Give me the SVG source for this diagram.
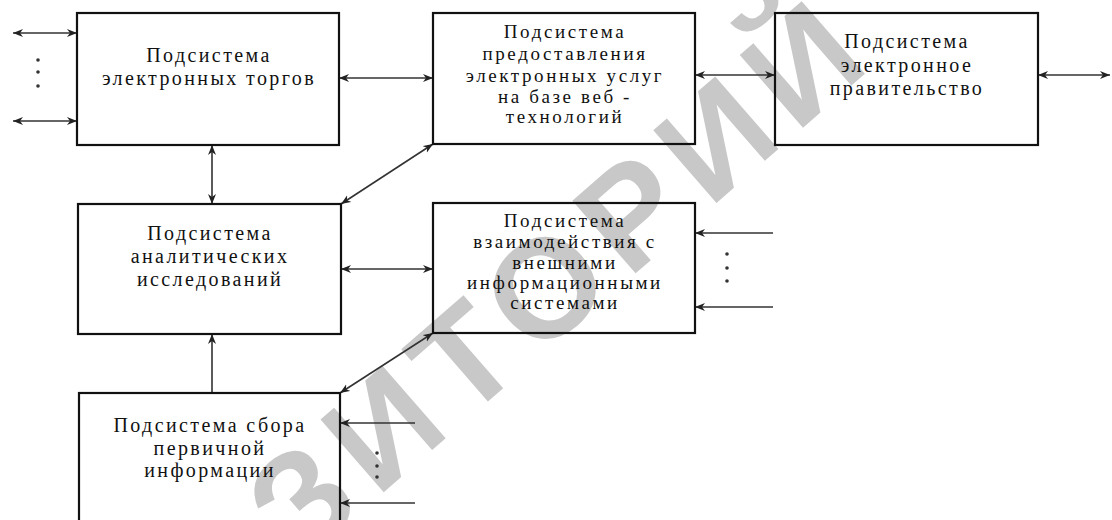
<svg xmlns="http://www.w3.org/2000/svg" width="1112" height="520" viewBox="0 0 1112 520">
<style>
.box{fill:none;stroke:#111;stroke-width:2.2}
.t{font-family:"Liberation Serif","Times New Roman",serif;font-size:20px;letter-spacing:2.4px;fill:#111;text-anchor:middle}
.s{font-size:19px;letter-spacing:2.6px}
.c{stroke:#333;stroke-width:1.6;fill:none}
.wm{font-family:"Liberation Sans",Arial,sans-serif;font-weight:bold;font-size:140px;letter-spacing:14px;fill:#c8c8c8}
.dot{fill:#333}
</style>
<defs>
<marker id="ah" markerUnits="userSpaceOnUse" markerWidth="12" markerHeight="10" refX="10" refY="4" orient="auto-start-reverse">
<path d="M0,0 L10,4 L0,8 L3,4 z" fill="#222"/>
</marker>
</defs>
<rect width="1112" height="520" fill="#fff"/>
<text class="wm" x="300" y="565" transform="rotate(-41 300 565)">ЗИТОРИЙ</text>
<g id="connectors">
<line class="c" x1="13" y1="33" x2="77" y2="33" marker-start="url(#ah)" marker-end="url(#ah)"/>
<line class="c" x1="13" y1="121" x2="77" y2="121" marker-start="url(#ah)" marker-end="url(#ah)"/>
<line class="c" x1="339" y1="78" x2="433" y2="78" marker-start="url(#ah)" marker-end="url(#ah)"/>
<line class="c" x1="695" y1="75" x2="775" y2="75" marker-start="url(#ah)" marker-end="url(#ah)"/>
<line class="c" x1="1038" y1="75" x2="1110" y2="75" marker-start="url(#ah)" marker-end="url(#ah)"/>
<line class="c" x1="212" y1="145" x2="212" y2="204" marker-start="url(#ah)" marker-end="url(#ah)"/>
<line class="c" x1="433" y1="144" x2="341" y2="204" marker-start="url(#ah)" marker-end="url(#ah)"/>
<line class="c" x1="341" y1="269" x2="433" y2="269" marker-start="url(#ah)" marker-end="url(#ah)"/>
<line class="c" x1="212" y1="393" x2="212" y2="334" marker-end="url(#ah)"/>
<line class="c" x1="433" y1="333" x2="340" y2="393" marker-start="url(#ah)" marker-end="url(#ah)"/>
<line class="c" x1="773" y1="233" x2="695" y2="233" marker-end="url(#ah)"/>
<line class="c" x1="773" y1="307" x2="695" y2="307" marker-end="url(#ah)"/>
<line class="c" x1="415" y1="423" x2="340" y2="423" marker-end="url(#ah)"/>
<line class="c" x1="415" y1="503" x2="340" y2="503" marker-end="url(#ah)"/>
<circle class="dot" cx="38" cy="60" r="1.8"/><circle class="dot" cx="38" cy="72" r="1.8"/><circle class="dot" cx="38" cy="86" r="1.8"/>
<circle class="dot" cx="727" cy="254" r="1.8"/><circle class="dot" cx="727" cy="268" r="1.8"/><circle class="dot" cx="727" cy="281" r="1.8"/>
<circle class="dot" cx="377" cy="453" r="1.8"/><circle class="dot" cx="377" cy="466" r="1.8"/><circle class="dot" cx="377" cy="477" r="1.8"/>
</g>
<g id="trading">
<rect class="box" x="77" y="13" width="262" height="132"/>
<text class="t" x="209" y="62">Подсистема</text>
<text class="t" x="209" y="85">электронных торгов</text>
</g>
<g id="services">
<rect class="box" x="433" y="13" width="262" height="131"/>
<text class="t s" x="565" y="38">Подсистема</text>
<text class="t s" x="565" y="60">предоставления</text>
<text class="t s" x="565" y="82">электронных услуг</text>
<text class="t s" x="565" y="103">на базе веб -</text>
<text class="t s" x="565" y="123">технологий</text>
</g>
<g id="government">
<rect class="box" x="775" y="13" width="263" height="132"/>
<text class="t" x="907" y="48">Подсистема</text>
<text class="t" x="907" y="72">электронное</text>
<text class="t" x="907" y="95">правительство</text>
</g>
<g id="analytics">
<rect class="box" x="78" y="204" width="263" height="130"/>
<text class="t" x="210" y="240">Подсистема</text>
<text class="t" x="210" y="263">аналитических</text>
<text class="t" x="210" y="286">исследований</text>
</g>
<g id="interaction">
<rect class="box" x="433" y="203" width="262" height="130"/>
<text class="t s" x="565" y="227">Подсистема</text>
<text class="t s" x="565" y="248">взаимодействия с</text>
<text class="t s" x="565" y="269">внешними</text>
<text class="t s" x="565" y="289">информационными</text>
<text class="t s" x="565" y="309">системами</text>
</g>
<g id="collection">
<rect class="box" x="79" y="393" width="261" height="140"/>
<text class="t" x="210" y="432">Подсистема сбора</text>
<text class="t" x="210" y="455">первичной</text>
<text class="t" x="210" y="477">информации</text>
</g>
</svg>
